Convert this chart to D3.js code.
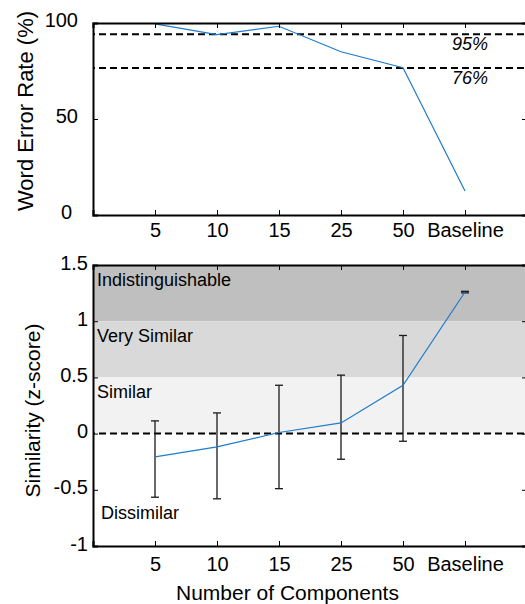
<!DOCTYPE html>
<html>
<head>
<meta charset="utf-8">
<script src="https://cdn.jsdelivr.net/npm/d3@7"></script>
<style>
  html, body { margin: 0; padding: 0; background: #fff; }
  svg { display: block; font-family: "Liberation Sans", Arial, sans-serif; }
</style>
</head>
<body>
<svg id="chart" width="525" height="604"></svg>
<script>
// ---------- data ----------
const categories = ["5", "10", "15", "25", "50", "Baseline"];
const werValues = [99.5, 94, 98.3, 85, 76.7, 12.5];
const werRefValues = [94.2, 76.6];
const werRefLabels = ["95%", "76%"];
const werTicks = [0, 50, 100];

const simMean  = [-0.207, -0.118, 0.01, 0.095, 0.43, 1.26];
const simUpper = [0.113, 0.184, 0.43, 0.52, 0.873, 1.266];
const simLower = [-0.566, -0.58, -0.49, -0.228, -0.068, 1.252];
const simTicks = [-1, -0.5, 0, 0.5, 1, 1.5];
const bandLow  = [1, 0.5, 0];
const bandHigh = [1.5, 1, 0.5];
const bandNames = ["Indistinguishable", "Very Similar", "Similar"];
const belowName = "Dissimilar";
const belowNameValue = -0.76;
const simRefValue = 0;

// ---------- styles ----------
const bandColors = ["#bfbfbf", "#d9d9d9", "#f2f2f2"];
const lineColor = "#1f7bcc";

const svg = d3.select("#chart");
const idx = categories.map((c, i) => i + 1);

const x = d3.scaleLinear().domain([0, 7]).range([93, 527]);
const yTop = d3.scaleLinear().domain([0, 100]).range([215, 23]);
const yBot = d3.scaleLinear().domain([-1, 1.5]).range([546, 265]);

function dashed(g, y, val) {
  g.append("line")
    .attr("x1", x(0)).attr("x2", x(7))
    .attr("y1", y(val)).attr("y2", y(val))
    .attr("stroke", "#000").attr("stroke-width", 2)
    .attr("stroke-dasharray", "7,4").attr("stroke-dashoffset", 5);
}

function frame(g, y, ticks, fmtPad, labelDy) {
  const fmtX = i => categories[i - 1];
  g.append("g").attr("transform", `translate(0,${y.range()[0]})`)
    .call(d3.axisBottom(x).tickValues(idx).tickFormat(fmtX).tickSize(-5).tickPadding(fmtPad.xPad))
    .call(s => s.select(".domain").attr("stroke-width", 2));
  g.append("g").attr("transform", `translate(0,${y.range()[1]})`)
    .call(d3.axisTop(x).tickValues(idx).tickFormat("").tickSize(-5))
    .call(s => s.select(".domain").attr("stroke-width", 2));
  const left = g.append("g").attr("transform", `translate(${x(0)},0)`)
    .call(d3.axisLeft(y).tickValues(ticks).tickFormat(d => String(d)).tickSize(-5).tickPadding(fmtPad.yPad))
    .call(s => s.select(".domain").attr("stroke-width", 2))
    .call(s => s.selectAll("text").attr("dy", labelDy));
  g.append("g").attr("transform", `translate(${x(7)},0)`)
    .call(d3.axisRight(y).tickValues(ticks).tickFormat("").tickSize(-5))
    .call(s => s.select(".domain").attr("stroke-width", 2));
  g.selectAll(".tick text").attr("font-size", 20).attr("fill", "#000")
    .attr("font-family", "'Liberation Sans', Arial, sans-serif");
  g.selectAll(".tick line").attr("stroke-width", 1);
  return left;
}

// ---------- top chart ----------
const gTop = svg.append("g");
werRefValues.forEach(v => dashed(gTop, yTop, v));
gTop.selectAll(".reflabel").data(werRefLabels).join("text")
  .attr("x", 452).attr("y", (d, i) => yTop(werRefValues[i]) + 16)
  .attr("font-size", 18).attr("font-style", "italic").text(d => d);
gTop.append("path")
  .datum(werValues)
  .attr("fill", "none").attr("stroke", lineColor).attr("stroke-width", 1.2)
  .attr("d", d3.line().x((d, i) => x(idx[i])).y(d => yTop(d)));
const topLeft = frame(gTop, yTop, werTicks, { xPad: 8, yPad: 15 }, "0.17em");
topLeft.selectAll(".tick text").filter(d => d === 0).attr("dx", -6);
svg.append("text")
  .attr("transform", `translate(33,${(yTop(0) + yTop(100)) / 2 - 8}) rotate(-90)`)
  .attr("text-anchor", "middle").attr("font-size", 22)
  .text("Word Error Rate (%)");

// ---------- bottom chart ----------
const gBot = svg.append("g");
gBot.selectAll(".band").data(bandLow).join("rect")
  .attr("x", x(0)).attr("width", x(7) - x(0))
  .attr("y", (d, i) => yBot(bandHigh[i]))
  .attr("height", (d, i) => yBot(d) - yBot(bandHigh[i]))
  .attr("fill", (d, i) => bandColors[i]);
gBot.selectAll(".bandlabel").data(bandNames).join("text")
  .attr("x", x(0) + 4).attr("y", (d, i) => yBot(bandHigh[i]) + 20.5)
  .attr("font-size", 18).text(d => d);
gBot.append("text").attr("x", x(0) + 8).attr("y", yBot(belowNameValue))
  .attr("font-size", 18).text(belowName);
dashed(gBot, yBot, simRefValue);

const eb = gBot.selectAll(".eb").data(simMean).join("g").attr("stroke", "#1a1a1a").attr("stroke-width", 1.3);
eb.append("line")
  .attr("x1", (d, i) => x(idx[i])).attr("x2", (d, i) => x(idx[i]))
  .attr("y1", (d, i) => yBot(simUpper[i])).attr("y2", (d, i) => yBot(simLower[i]));
eb.append("line")
  .attr("x1", (d, i) => x(idx[i]) - 4).attr("x2", (d, i) => x(idx[i]) + 4)
  .attr("y1", (d, i) => yBot(simUpper[i])).attr("y2", (d, i) => yBot(simUpper[i]));
eb.append("line")
  .attr("x1", (d, i) => x(idx[i]) - 4).attr("x2", (d, i) => x(idx[i]) + 4)
  .attr("y1", (d, i) => yBot(simLower[i])).attr("y2", (d, i) => yBot(simLower[i]));

gBot.append("path")
  .datum(simMean)
  .attr("fill", "none").attr("stroke", lineColor).attr("stroke-width", 1.2)
  .attr("d", d3.line().x((d, i) => x(idx[i])).y(d => yBot(d)));
frame(gBot, yBot, simTicks, { xPad: 11, yPad: 5 }, "0.2em");
svg.append("text")
  .attr("transform", `translate(39.5,${(yBot(-1) + yBot(1.5)) / 2 + 5}) rotate(-90)`)
  .attr("text-anchor", "middle").attr("font-size", 21)
  .text("Similarity (z-score)");
svg.append("text")
  .attr("x", 287.5).attr("y", 600)
  .attr("text-anchor", "middle").attr("font-size", 21)
  .text("Number of Components");
</script>
</body>
</html>
